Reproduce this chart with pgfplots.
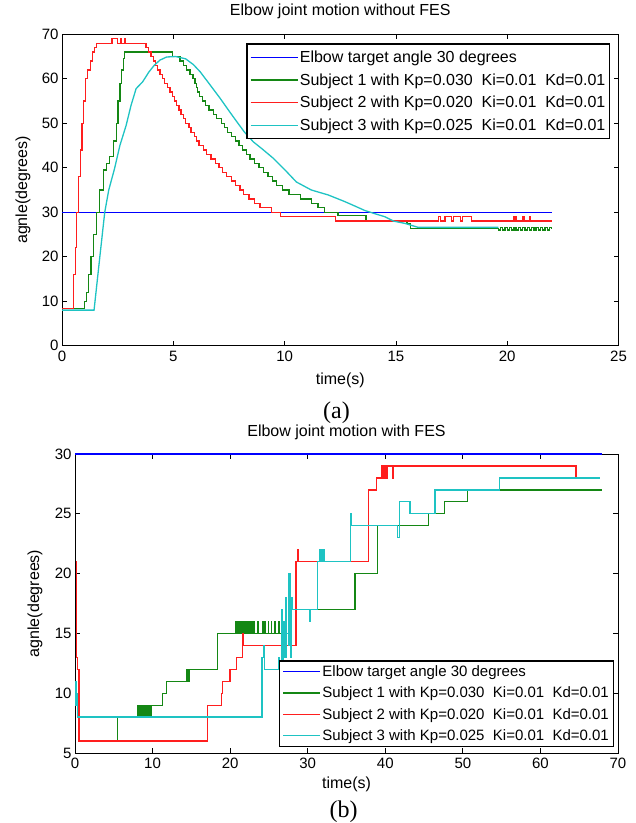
\documentclass[border=0pt]{standalone}
\usepackage{pgfplots}
\pgfplotsset{compat=1.18}
\usepackage{fontspec}
\setmainfont{Liberation Sans}
\newfontfamily\capfont{Liberation Serif}

\definecolor{mblue}{RGB}{0,0,255}
\definecolor{mgreen}{RGB}{20,135,20}
\definecolor{mred}{RGB}{255,30,30}
\definecolor{mcyan}{RGB}{30,195,195}

\newcommand{\tickfont}{\fontsize{15bp}{18bp}\selectfont}
\newcommand{\labfont}{\fontsize{16bp}{19bp}\selectfont}

\pgfplotsset{
  mlab/.style={
    scale only axis,
    anchor=south west,
    axis line style={black, line width=0.8bp},
    every tick/.style={black, line width=0.8bp},
    major tick length=5bp,
    tick align=inside,
    ticklabel style={font=\tickfont},
    label style={font=\labfont},
    title style={font=\labfont},
    /pgf/number format/assume math mode=true,
    legend cell align=left,
  }
}

\begin{document}
\begin{tikzpicture}
\path[use as bounding box] (0,0) rectangle (636bp,-823bp);

% ---------- (a) without FES ----------
\begin{axis}[mlab,
  at={(62bp,-345.7bp)}, width=556.5bp, height=311.4bp,
  xmin=0, xmax=25, ymin=0, ymax=70,
  xtick={0,5,...,25}, ytick={0,10,...,70},
  xticklabel style={yshift=-2bp},
  title={Elbow joint motion without FES},
  title style={at={(0.5,1)}, anchor=base, yshift=13bp},
  xlabel={time(s)},
  xlabel style={at={(0.5,0)}, anchor=base, yshift=-39bp},
  ylabel={agnle(degrees)},
  ylabel style={at={(-0.07,0.5)}, anchor=center},
  legend image code/.code={\draw[#1] (0bp,0bp) -- (47bp,0bp);},
  legend style={at={(0.9856,0.971)}, anchor=north east, draw=black,
    line width=1.2bp, font=\labfont, inner xsep=3bp, inner ysep=5.5bp,
    row sep=6.5bp, nodes={inner sep=1.5bp}},
]
\addplot[mblue, line width=1.3bp] coordinates {(0,30) (22,30)};
\addlegendentry{Elbow target angle 30 degrees}

\addplot[mgreen, line width=1.3bp, const plot] coordinates {
(0,8.3) (1.02,10) (1.1,12) (1.2,16) (1.3,20) (1.42,25) (1.55,30) (1.7,35)
(1.85,39.5) (2.0,41) (2.14,42.5) (2.3,46) (2.44,50) (2.52,55) (2.6,59)
(2.68,62) (2.76,64.5) (2.82,66) (4.95,65) (5.3,64) (5.45,63) (5.6,62)
(5.75,61) (5.88,60) (5.98,59) (6.05,58) (6.1,57) (6.18,56) (6.3,55)
(6.45,54) (6.6,53) (6.8,52) (6.95,51) (7.15,50) (7.3,49) (7.45,48)
(7.6,47) (7.8,46) (7.95,45) (8.1,44) (8.3,43) (8.45,42) (8.65,41)
(8.85,40) (9.05,39) (9.25,38) (9.45,37) (9.65,36) (9.9,35) (10.2,34)
(10.7,33) (11.2,32) (11.5,31) (11.8,30) (12.4,29.2) (13.65,28) (15.5,27.4)
(15.66,26.4) (19.6,26) (19.7,26.5) (19.8,26) (19.9,26.5) (20.0,26)
(20.1,26.5) (20.2,26) (20.3,26.5) (20.4,26) (20.5,26.5) (20.6,26)
(20.7,26.5) (20.8,26) (20.9,26.5) (21.0,26) (21.1,26.5) (21.2,26)
(21.3,26.5) (21.4,26) (21.5,26.5) (21.6,26) (21.7,26.5) (21.8,26)
(21.9,26.5) (22,26.3)};
\addlegendentry{Subject 1 with Kp=0.030\ \ Ki=0.01\ \ Kd=0.01}

\addplot[mred, line width=1.3bp, const plot] coordinates {
(0,8.3) (0.53,16) (0.6,22) (0.66,30) (0.74,38) (0.82,44) (0.9,50)
(0.98,55) (1.07,60) (1.15,62) (1.28,64) (1.38,66) (1.47,67) (1.55,68)
(2.25,69) (2.5,68) (2.62,69) (2.66,68) (2.8,69) (2.83,68) (3.77,67)
(3.9,66) (4.0,65) (4.1,64) (4.2,63) (4.3,62) (4.4,61) (4.5,60) (4.6,59)
(4.75,58) (4.85,57) (4.95,56) (5.05,55) (5.15,54) (5.25,53) (5.35,52)
(5.45,51) (5.55,50) (5.7,49) (5.8,48) (5.95,47) (6.05,46) (6.15,45)
(6.35,44) (6.5,43) (6.7,42) (6.9,41) (7.05,40) (7.2,39) (7.4,38) (7.6,37)
(7.8,36) (8.0,35) (8.15,34) (8.4,33) (8.65,32) (8.9,31) (9.4,30) (9.83,29)
(12.3,28) (16.9,29) (17.0,28) (17.2,29) (17.5,28) (17.6,29) (17.9,28)
(18.0,29) (18.4,28) (20.3,29) (20.4,28) (20.7,29) (20.75,28) (21.0,29)
(21.05,28) (22,28)};
\addlegendentry{Subject 2 with Kp=0.020\ \ Ki=0.01\ \ Kd=0.01}

\addplot[mcyan, line width=1.3bp] coordinates {
(0,8) (1.44,8) (1.7,20) (1.92,30) (2.1,35) (2.36,39.8) (2.6,45) (2.88,49.5)
(3.1,54) (3.33,57.8) (3.62,59.3) (3.9,61.5) (4.14,63) (4.4,64.2) (4.7,64.9)
(5.1,65) (5.55,64.5) (5.9,63.2) (6.22,61.5) (6.7,58.3) (7.12,55.5)
(7.5,52.8) (7.86,50.3) (8.2,48) (8.6,45.8) (9.0,44.2) (9.5,42.1) (10.0,39.6)
(10.53,36.8) (11.2,35) (11.95,33.9) (12.7,32.4) (13.2,31.3) (13.6,30.4)
(14.1,29.6) (14.5,29) (14.9,28) (15.4,27.5) (16.0,26.6) (19.6,26.6)};
\addlegendentry{Subject 3 with Kp=0.025\ \ Ki=0.01\ \ Kd=0.01}
\end{axis}

\node[font=\capfont\fontsize{24bp}{28bp}\selectfont] at (336.5bp,-412.7bp) {(a)};

% ---------- (b) with FES ----------
\begin{axis}[mlab,
  at={(75bp,-753bp)}, width=543bp, height=299bp,
  clip=false,
  xmin=0, xmax=70, ymin=5, ymax=30,
  xtick={0,10,...,70}, ytick={5,10,...,30},
  xticklabel style={yshift=-1bp},
  title={Elbow joint motion with FES},
  title style={at={(0.5,1)}, anchor=base, yshift=12bp},
  xlabel={time(s)},
  xlabel style={at={(0.5,0)}, anchor=base, yshift=-35bp},
  ylabel={agnle(degrees)},
  ylabel style={at={(-0.0737,0.5)}, anchor=center},
  legend image code/.code={\draw[#1] (0bp,0bp) -- (37bp,0bp);},
  legend style={at={(0.9926,0.02)}, anchor=south east, draw=black,
    line width=1.2bp, font=\fontsize{15bp}{18bp}\selectfont,
    inner xsep=3bp, inner ysep=3bp, row sep=6bp, nodes={inner sep=1.5bp}},
]
\addplot[mblue, line width=1.3bp] coordinates {(0,30) (68,30)};
\addlegendentry{Elbow target angle 30 degrees}

\addplot[mgreen, line width=1.3bp, const plot] coordinates {
(0.45,6) (5.5,8) (8.1,9) (8.25,8) (8.4,9) (8.55,8) (8.7,9) (8.85,8) (9.0,9)
(9.15,8) (9.3,9) (9.45,8) (9.6,9) (9.75,8) (9.9,9) (11.3,10) (11.8,11)
(14.4,12) (14.5,11) (14.6,12) (14.7,11) (14.8,12) (18.4,15) (20.7,16)
(20.75,15) (20.9,16) (21.0,15) (21.15,16) (21.3,15) (21.45,16) (21.6,15)
(21.75,16) (21.9,15) (22.05,16) (22.2,15) (22.35,16) (22.5,15) (22.65,16)
(22.8,15) (22.95,16) (23.1,15) (23.6,16) (23.65,15) (24.2,16) (24.25,15)
(24.5,16) (24.55,15) (24.9,16) (24.95,15) (25.3,16) (25.35,15) (25.8,16)
(25.85,15) (26.3,16) (26.35,15) (26.7,16) (26.75,15) (27.2,16) (27.25,15)
(27.9,17) (36.1,20) (39.0,24) (45.6,25) (47.6,26) (50.6,27) (68,27)};
\addlegendentry{Subject 1 with Kp=0.030\ \ Ki=0.01\ \ Kd=0.01}

\addplot[mred, line width=1.3bp, const plot] coordinates {
(0.1,21) (0.18,20) (0.22,13) (0.3,12) (0.5,6) (17.1,9) (18.85,10)
(18.97,11) (20.0,12) (20.8,13) (21.55,15) (21.7,14) (28.5,21) (28.75,22)
(28.85,21) (37.8,27) (38.9,28) (39.5,29) (39.6,28) (39.7,29) (39.8,28)
(39.9,29) (40.0,28) (40.1,29) (40.2,28) (40.3,29) (40.9,28) (41.0,29)
(64.6,28)};
\addlegendentry{Subject 2 with Kp=0.020\ \ Ki=0.01\ \ Kd=0.01}

\addplot[mcyan, line width=1.3bp, const plot] coordinates {
(0.05,11) (0.12,9) (0.18,10) (0.3,8) (24.1,13) (24.3,14) (24.45,12)
(26.3,13) (26.4,12) (26.6,17) (26.7,12) (26.9,16) (27.0,13) (27.2,18)
(27.3,15) (27.5,14) (27.6,20) (27.7,17) (27.8,13) (27.9,18) (28.0,17)
(30.2,16) (30.3,17) (31.3,21) (31.5,22) (31.6,21) (31.8,22) (31.9,21)
(32.0,22) (32.2,21) (35.5,25) (35.6,24) (41.6,23) (41.8,26) (43.2,25)
(46.4,27) (54.7,28) (67.7,28)};
\addlegendentry{Subject 3 with Kp=0.025\ \ Ki=0.01\ \ Kd=0.01}
\end{axis}

\node[font=\capfont\fontsize{24bp}{28bp}\selectfont] at (343.7bp,-811.7bp) {(b)};
\end{tikzpicture}
\end{document}
